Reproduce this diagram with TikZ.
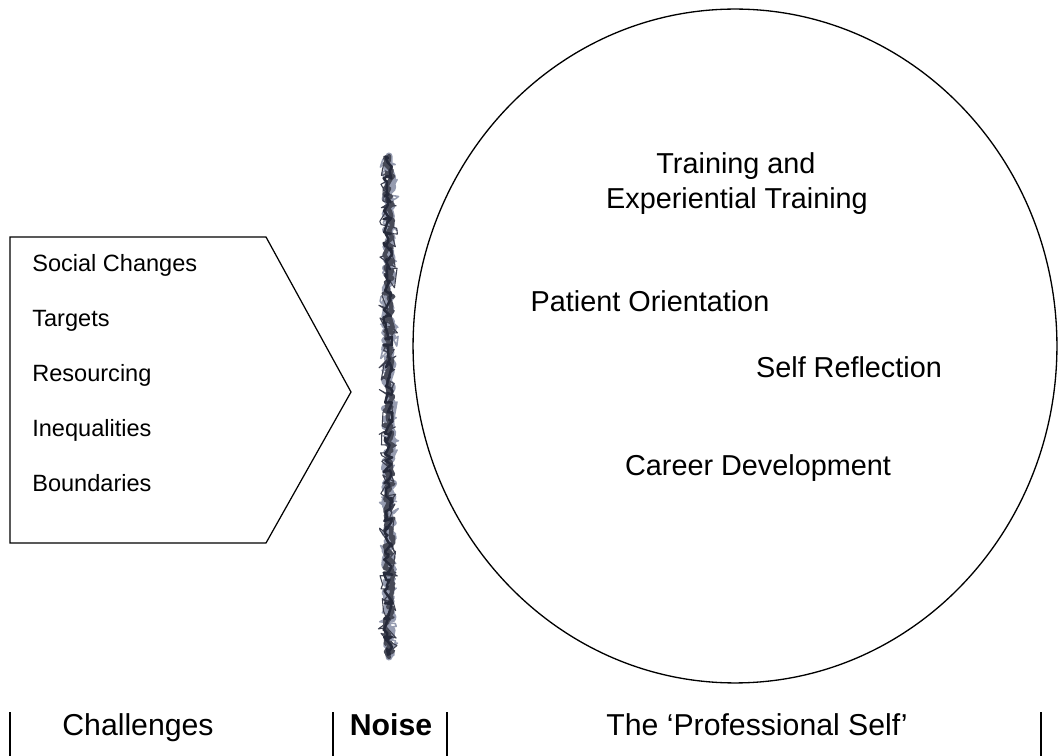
\documentclass[tikz,border=0pt]{standalone}
\usepackage{fontspec}
\setmainfont{Liberation Sans}
\usepackage{tikz}
\usetikzlibrary{shapes.geometric,decorations.pathmorphing}

\definecolor{noisedark}{RGB}{38,42,58}
\definecolor{noiselight}{RGB}{150,156,176}

\begin{document}
\begin{tikzpicture}[x=0.02cm, y=-0.02cm,
		item_style/.style={anchor=base west, inner sep=0, font=\fontsize{13.4}{16}\selectfont},
		self_style/.style={anchor=base, inner sep=0, font=\fontsize{16.4}{19.8}\selectfont},
		head_style/.style={anchor=base, inner sep=0, font=\fontsize{17.2}{20}\selectfont},
		bar_style/.style={draw=black, line width=0.8pt},
		noise_style/.style={decorate, line join=round, line cap=round,
			decoration={random steps, segment length=1.6pt, amplitude=2.6pt}},
		spike_style/.style={decorate, line join=round,
			decoration={random steps, segment length=2pt, amplitude=5.5pt}}]
		
		\useasboundingbox (0,0) rectangle (1058,756);
		
		% challenges arrow
		\draw[line width=0.7pt, line join=miter] (10,237) -- (266,237) -- (351,392) -- (266,543) -- (10,543) -- cycle;
		\node[item_style] (social)   at (32,272) {Social Changes};
		\node[item_style] (targets)  at (32,327) {Targets};
		\node[item_style] (resource) at (32,382) {Resourcing};
		\node[item_style] (inequal)  at (32,437) {Inequalities};
		\node[item_style] (bounds)   at (32,492) {Boundaries};
		
		% noise
		\pgfmathsetseed{31}
		\draw[spike_style, noiselight, line width=0.9pt] (389,158) -- (389,655);
		\pgfmathsetseed{11}
		\draw[noise_style, noiselight, line width=4pt] (389,156) -- (389,657);
		\pgfmathsetseed{47}
		\draw[spike_style, noisedark!90, line width=0.6pt] (388,160) -- (388,653);
		\pgfmathsetseed{5}
		\draw[noise_style, noisedark!85, line width=2.4pt] (389,156) -- (389,657);
		\pgfmathsetseed{23}
		\draw[noise_style, noisedark, line width=1.4pt] (388,158) -- (388,655);
		
		% professional self
		\node[draw=black, line width=0.75pt, ellipse, inner sep=0, minimum width=12.88cm, minimum height=13.48cm] (self) at (735,346) {};
		\node[self_style] (train1)  at (736,174) {Training and};
		\node[self_style] (train2)  at (737,209) {Experiential Training};
		\node[self_style] (patient) at (650,312) {Patient Orientation};
		\node[self_style] (reflect) at (849,378) {Self Reflection};
		\node[self_style] (career)  at (758,476) {Career Development};
		
		% headings
		\draw[bar_style] (10,712) -- (10,756);
		\draw[bar_style] (333,712) -- (333,756);
		\draw[bar_style] (447,712) -- (447,756);
		\draw[bar_style] (1041,712) -- (1041,756);
		\node[head_style] (challenges) at (138,735) {Challenges};
		\node[head_style] (noise)      at (391,735) {\bfseries Noise};
		\node[head_style] (profself)   at (757,735) {The ‘Professional Self’};
		
\end{tikzpicture}
\end{document}
